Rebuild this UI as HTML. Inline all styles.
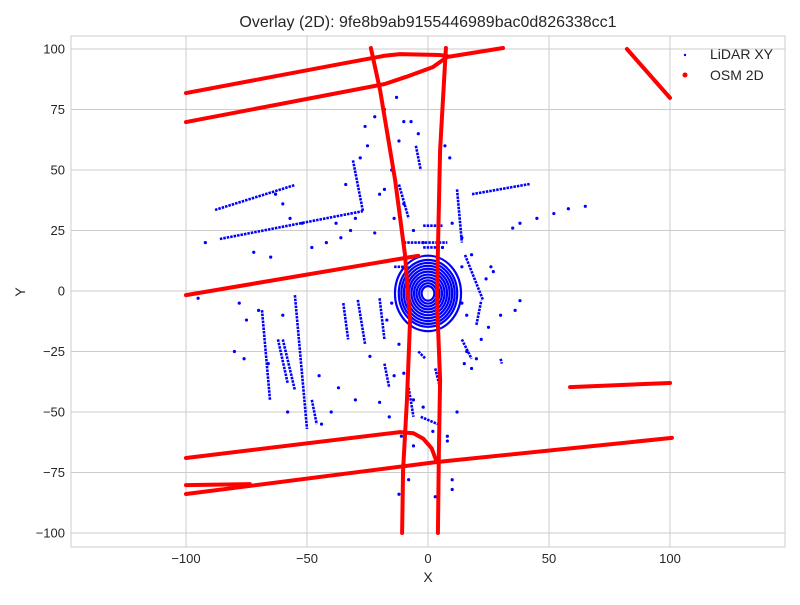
<!DOCTYPE html>
<html><head><meta charset="utf-8"><style>
body{margin:0;background:#fff;font-family:"Liberation Sans",sans-serif;}
svg text{font-family:"Liberation Sans",sans-serif;fill:#262626;}
</style></head><body>
<svg id="chart" width="800" height="600" xmlns="http://www.w3.org/2000/svg">
<rect width="800" height="600" fill="#fff"/>
<text x="428" y="27" font-size="16" text-anchor="middle">Overlay (2D): 9fe8b9ab9155446989bac0d826338cc1</text>
<g id="grid"></g>
<g id="marks"></g>
<rect x="71" y="36" width="714" height="511" fill="none" stroke="#cccccc" stroke-width="1"/>
<text x="428" y="582" font-size="14" text-anchor="middle">X</text>
<text x="25" y="292" font-size="14" text-anchor="middle" transform="rotate(-90 25 292)">Y</text>
<g>
<g><circle cx="685" cy="55" r="1.2" fill="#0000ff"/><text x="710" y="59" font-size="14">LiDAR XY</text></g>
<g><circle cx="685" cy="75" r="2.5" fill="#ff0000"/><text x="710" y="80" font-size="14">OSM 2D</text></g>
</g>
</svg>
<script>
const xTicks=[-100,-50,0,50,100];
const yTicks=[-100,-75,-50,-25,0,25,50,75,100];
const xTickLabels=["−100","−50","0","50","100"];
const yTickLabels=["−100","−75","−50","−25","0","25","50","75","100"];
// OSM roads (x arrays, y arrays)
const osmX=[
[-100,-32,-18,-11.6,5,7.9],
[-100,-18,-9,2,7.9,31],
[-23.6,-19.8,-13.6,-9.5,-7.4,-8.7,-10.3,-10.7],
[7.4,5,4.1,3.7,5,4.5,4.1],
[-100,-7.4,-4],
[-100,-11.6,-6,-2,1.5,3.3],
[-100,3.3,100.8],
[-100,-73.6],
[58.7,100],
[82.2,100]];
const osmY=[
[81.8,94.6,97.2,97.9,97.5,97.1],
[69.8,85.5,88.5,92.5,96.7,100.4],
[100.4,83,45.9,14.9,-12,-45,-74,-100],
[100.4,58.3,16.9,-3.7,-36.8,-65.7,-100],
[-1.7,14,14.5],
[-69,-58.3,-58.8,-61,-65,-69.8],
[-83.9,-70.7,-60.7],
[-80.2,-79.8],
[-39.7,-38],
[100,79.8]];
// LiDAR wall segments
const segX1=[-88,-86,-31,18.2,-55,-68.6,-60,-29,15.3,-20,-12,-5,12,-35,-18,-8,-3,3,14,20,-2,30,-14,-4,-62,-48,-10,-2];
const segY1=[33.5,21.5,54,40,-1.7,-7.9,-20,-3.7,14.9,-3,44,60,42,-5,-30,-40,-52,-32,-20,-14,18,-28,10,-25,-20,-45,20,27];
const segX2=[-55,-26.9,-26.9,42,-50,-65.3,-55,-26,22.7,-18,-8,-3,14,-33,-16,-6,4,5,18,22,4,30.5,-8,-1,-58,-46,8,6];
const segY2=[43.8,33,33,44.2,-57,-45,-41,-22,-3.7,-20,30,50,20,-20,-40,-52,-55,-40,-28,-4,18,-30,10,-28,-38,-55,20,27];
// LiDAR rings around sensor
const ringR=[2.5,3.5,4.5,5.5,6.5,7.5,8.5,9.5,10.5,11.5,13];
// scattered LiDAR points
const ptX=[-92,-95,-78,-72,-65,-60,-45,-40,-38,-30,-22,-20,-15,-12,-10,-18,-25,-28,-32,-36,-42,-48,-52,-57,-60,-63,-70,-75,-80,-76,-66,-58,-44,-37,-30,-20,-16,-11,-6,-2,2,8,10,12,15,16,18,20,22,25,30,35,38,45,52,58,65,38,36,27,24,14,9,7,-4,-7,-13,-22,-26,-34,-10,-14,-18,-6,-2,6,10,14,18,26,-24,-14,-6,10,8,-8,-12,3,-15,-17,14,16,-12,-10];
const ptY=[20,-3,-5,16,14,-10,-35,-50,28,30,24,40,50,62,70,75,60,55,25,22,20,18,28,30,36,40,-8,-12,-25,-28,-30,-50,-55,-40,-45,-46,-52,-60,-64,-48,-58,-62,-78,-50,-30,-25,-32,-28,-20,-15,-10,26,28,30,32,34,35,-4,-8,8,5,10,55,60,65,70,80,72,68,44,36,30,42,25,20,18,28,22,15,10,-27,-35,-45,-82,-60,-78,-84,-85,-5,-12,-5,-10,-22,-34];
const X=v=>428+v*2.42, Y=v=>291-v*2.42;
const NS="http://www.w3.org/2000/svg";
function mk(tag,attrs,parent){const e=document.createElementNS(NS,tag);for(const k in attrs)e.setAttribute(k,attrs[k]);parent.appendChild(e);return e;}
const grid=document.getElementById('grid'), marks=document.getElementById('marks');
xTicks.forEach((t,i)=>{
 const l=mk('line',{x1:X(t),x2:X(t),y1:36,y2:547,stroke:'#cccccc'},grid);
 
 
 const tx=mk('text',{x:X(t),y:563,'font-size':13,'text-anchor':'middle'},grid);
 tx.textContent=xTickLabels[i];
 
 
});
yTicks.forEach((t,i)=>{
 const l=mk('line',{x1:71,x2:785,y1:Y(t),y2:Y(t),stroke:'#cccccc'},grid);
 
 
 const tx=mk('text',{x:65,y:Y(t)+4.5,'font-size':13,'text-anchor':'end'},grid);
 tx.textContent=yTickLabels[i];
 
 
});
// LiDAR
segX1.forEach((x,i)=>{
 const l=mk('line',{x1:X(x),y1:Y(segY1[i]),x2:X(segX2[i]),y2:Y(segY2[i]),stroke:'#0000ff','stroke-width':2.6,'stroke-dasharray':'2.5 1'},marks);
 
 
});
ringR.forEach(r=>{
 const e=mk('ellipse',{cx:X(0),cy:Y(-1),rx:r*2.42*1.05,ry:r*2.42*1.2,fill:'none',stroke:'#0000ff','stroke-width':2.2},marks);
 
 
});
ptX.forEach((x,i)=>{
 const c=mk('circle',{cx:X(x),cy:Y(ptY[i]),r:1.6,fill:'#0000ff'},marks);
 
 
});
// OSM
osmX.forEach((xs,i)=>{
 const p=mk('polyline',{points:xs.map((x,j)=>X(x)+','+Y(osmY[i][j])).join(' '),fill:'none',stroke:'#ff0000','stroke-width':4,'stroke-linejoin':'round','stroke-linecap':'round'},marks);
 
 
});
</script>
</body></html>
